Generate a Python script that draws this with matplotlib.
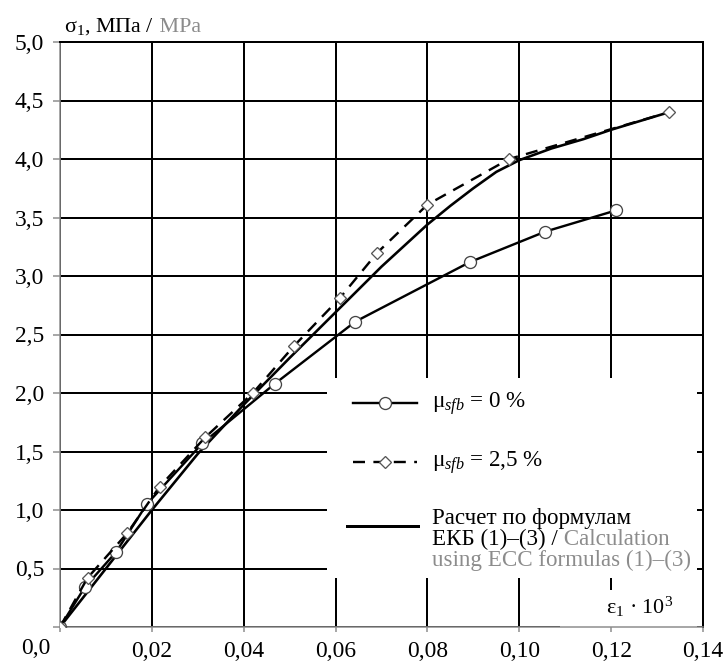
import matplotlib
matplotlib.use("Agg")
import matplotlib.pyplot as plt
from matplotlib.patches import Rectangle
from matplotlib.lines import Line2D
from matplotlib.offsetbox import AnchoredOffsetbox, VPacker, HPacker, TextArea, DrawingArea

plt.rcParams['font.family'] = ['Liberation Serif', 'DejaVu Serif']
plt.rcParams['mathtext.fontset'] = 'custom'
plt.rcParams['mathtext.rm'] = 'Liberation Serif'
plt.rcParams['mathtext.it'] = 'Liberation Serif:italic'

# experiment, mu_sfb = 0 %
eps_0 = [0, 0.0054, 0.0122, 0.0189, 0.031, 0.0468, 0.0643, 0.0893, 0.1057, 0.121]
sig_0 = [0, 0.34, 0.64, 1.05, 1.57, 2.08, 2.61, 3.12, 3.38, 3.56]

# experiment, mu_sfb = 2,5 %
eps_25 = [0, 0.006, 0.0146, 0.0217, 0.0316, 0.042, 0.0509, 0.0609, 0.0691, 0.080, 0.0978, 0.1326]
sig_25 = [0, 0.42, 0.80, 1.20, 1.62, 2.00, 2.40, 2.81, 3.20, 3.61, 4.00, 4.40]

# calculation by ECC formulas (1)-(3)
eps_calc = [0, 0.01, 0.02, 0.03, 0.04, 0.05, 0.06, 0.07, 0.08, 0.085, 0.09, 0.095,
            0.10, 0.107, 0.114, 0.12, 0.1326]
sig_calc = [0, 0.50, 1.00, 1.48, 1.90, 2.30, 2.69, 3.08, 3.44, 3.60, 3.75, 3.89,
            3.99, 4.09, 4.17, 4.25, 4.40]

x_ticks = [0, 0.02, 0.04, 0.06, 0.08, 0.10, 0.12, 0.14]
x_labels = ["", "0,02", "0,04", "0,06", "0,08", "0,10", "0,12", "0,14"]
y_ticks = [0, 0.5, 1.0, 1.5, 2.0, 2.5, 3.0, 3.5, 4.0, 4.5, 5.0]
y_labels = [""] + [f"{v:.1f}".replace(".", ",") for v in y_ticks[1:]]

GRAY = "#8c8c8c"

fig = plt.figure(figsize=(728 / 72, 666 / 72), dpi=72)
ax = fig.add_axes([60 / 728, 39 / 666, 643 / 728, 585 / 666])

ax.set_xlim(0, 0.14)
ax.set_ylim(0, 5.0)
ax.set_xticks(x_ticks)
ax.set_xticklabels(x_labels)
ax.set_yticks(y_ticks)
ax.set_yticklabels(y_labels)
ax.tick_params(axis='both', labelsize=23.5, colors='black')
ax.tick_params(axis='y', length=7, width=1.5, color=GRAY, pad=9)
ax.tick_params(axis='x', length=5, width=1.5, color=GRAY, pad=9)
ax.set_axisbelow(True)
ax.grid(True, color='black', lw=2)

for s in ('left', 'bottom'):
    ax.spines[s].set_color(GRAY)
    ax.spines[s].set_linewidth(1.5)
for s in ('top', 'right'):
    ax.spines[s].set_color('black')
    ax.spines[s].set_linewidth(2)

ax.text(-0.037, -0.037, "0,0", transform=ax.transAxes, fontsize=23.5,
        ha='center', va='center')

# white boxes under the legend and the axis label
ax.add_patch(Rectangle((0.415, 0.0838), 0.576, 0.342, transform=ax.transAxes,
                       facecolor='white', edgecolor='none', zorder=1))
ax.add_patch(Rectangle((0.778, 0.0), 0.213, 0.063, transform=ax.transAxes,
                       facecolor='white', edgecolor='none', zorder=1))

ax.plot(eps_calc, sig_calc, color='black', lw=2.6, zorder=3)
ax.plot(eps_0, sig_0, color='black', lw=2.4, zorder=3,
        marker='o', ms=12, mfc='white', mec='#444444', mew=1.3)
ax.plot(eps_25, sig_25, color='black', lw=2.4, zorder=3, dashes=(5, 3.5),
        marker='D', ms=9, mfc='white', mec='#555555', mew=1.3)

ax.text(0.902, 0.034, r"$\mathrm{\varepsilon}_1$ · 10$^3$", transform=ax.transAxes,
        fontsize=22, ha='center', va='center', zorder=4)

# y axis title
title = HPacker(children=[TextArea(r"$\mathrm{\sigma}_1$, МПа /", textprops=dict(fontsize=22)),
                          TextArea(" MPa", textprops=dict(fontsize=22, color=GRAY))],
                sep=0, pad=0, align='baseline')
ax.add_artist(AnchoredOffsetbox(loc='lower left', child=title, pad=0, borderpad=0,
                                frameon=False, bbox_to_anchor=(0.006, 1.008),
                                bbox_transform=ax.transAxes))


# legend
def mk(marker, ms, mec, dashed):
    da = DrawingArea(70, 24, 0, 0)
    style = dict(dashes=(5, 3.5)) if dashed else {}
    da.add_artist(Line2D([6, 70], [12, 12], color='black', lw=2.4, **style))
    da.add_artist(Line2D([38], [12], marker=marker, ms=ms, mfc='white', mec=mec, mew=1.3, lw=0))
    return da


tp = dict(fontsize=23)
tg = dict(fontsize=23, color=GRAY)
row1 = HPacker(children=[mk('o', 12, '#444444', False),
                         TextArea(r"$\mathrm{\mu}_{sfb}$ = 0 %", textprops=tp)],
               sep=15, pad=0, align='center')
row2 = HPacker(children=[mk('D', 9, '#555555', True),
                         TextArea(r"$\mathrm{\mu}_{sfb}$ = 2,5 %", textprops=tp)],
               sep=15, pad=0, align='center')
calc_lines = VPacker(children=[
    TextArea("Расчет по формулам", textprops=tp),
    HPacker(children=[TextArea("ЕКБ (1)–(3) /", textprops=tp),
                      TextArea(" Calculation", textprops=tg)],
            sep=0, pad=0, align='baseline'),
    TextArea("using ECC formulas (1)–(3)", textprops=tg),
], sep=0, pad=0, align='left')
line_da = DrawingArea(71, 30, 0, 0)
line_da.add_artist(Line2D([0, 71], [12, 12], color='black', lw=3))
row3 = HPacker(children=[line_da, calc_lines], sep=14, pad=0, align='top')
leg = VPacker(children=[row1, row2, row3], sep=32, pad=0, align='left')
ax.add_artist(AnchoredOffsetbox(loc='upper left', child=leg, pad=0, borderpad=0,
                                frameon=False, bbox_to_anchor=(0.446, 0.405),
                                bbox_transform=ax.transAxes, zorder=5))

fig.savefig("out.png", dpi=72)
